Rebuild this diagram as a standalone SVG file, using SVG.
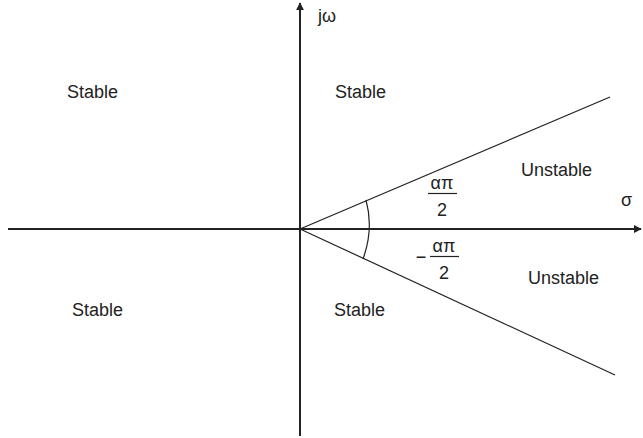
<svg xmlns="http://www.w3.org/2000/svg" width="643" height="438" viewBox="0 0 643 438">
<style>
.t{font-family:"Liberation Sans",Arial,sans-serif;font-size:18px;fill:#222}
.l{stroke:#222;stroke-width:1.2;fill:none}
.ax{stroke:#222;stroke-width:2;fill:none}
</style>
<defs>
<marker id="ah" viewBox="0 0 10 10" refX="9" refY="5" markerWidth="8" markerHeight="8" markerUnits="userSpaceOnUse" orient="auto">
<path d="M0,0 L10,5 L0,10 z" fill="#222"/>
</marker>
</defs>
<rect width="643" height="438" fill="#fff"/>
<g id="connectors">
<line class="ax" x1="8" y1="229" x2="641" y2="229" marker-end="url(#ah)"/>
<line class="ax" x1="300" y1="436" x2="300" y2="3" marker-end="url(#ah)"/>
<line class="l" x1="300" y1="229" x2="610" y2="97"/>
<line class="l" x1="300" y1="229" x2="615" y2="375"/>
<path class="l" d="M366,200 Q374,229 363,259"/>
</g>
<g id="labels">
<text class="t" x="318" y="22">jω</text>
<text class="t" x="621" y="206">σ</text>
<text class="t" x="67" y="98">Stable</text>
<text class="t" x="335" y="98">Stable</text>
<text class="t" x="521" y="176">Unstable</text>
<text class="t" x="528" y="284">Unstable</text>
<text class="t" x="72" y="316">Stable</text>
<text class="t" x="334" y="316">Stable</text>
</g>
<g id="frac-upper">
<text class="t" x="442" y="189" text-anchor="middle">απ</text>
<line class="l" x1="428" y1="193.5" x2="457" y2="193.5"/>
<text class="t" x="442" y="216" text-anchor="middle">2</text>
</g>
<g id="frac-lower">
<text class="t" x="421" y="263" text-anchor="middle">−</text>
<text class="t" x="444" y="252" text-anchor="middle">απ</text>
<line class="l" x1="430" y1="256.5" x2="459" y2="256.5"/>
<text class="t" x="444" y="279" text-anchor="middle">2</text>
</g>
</svg>
